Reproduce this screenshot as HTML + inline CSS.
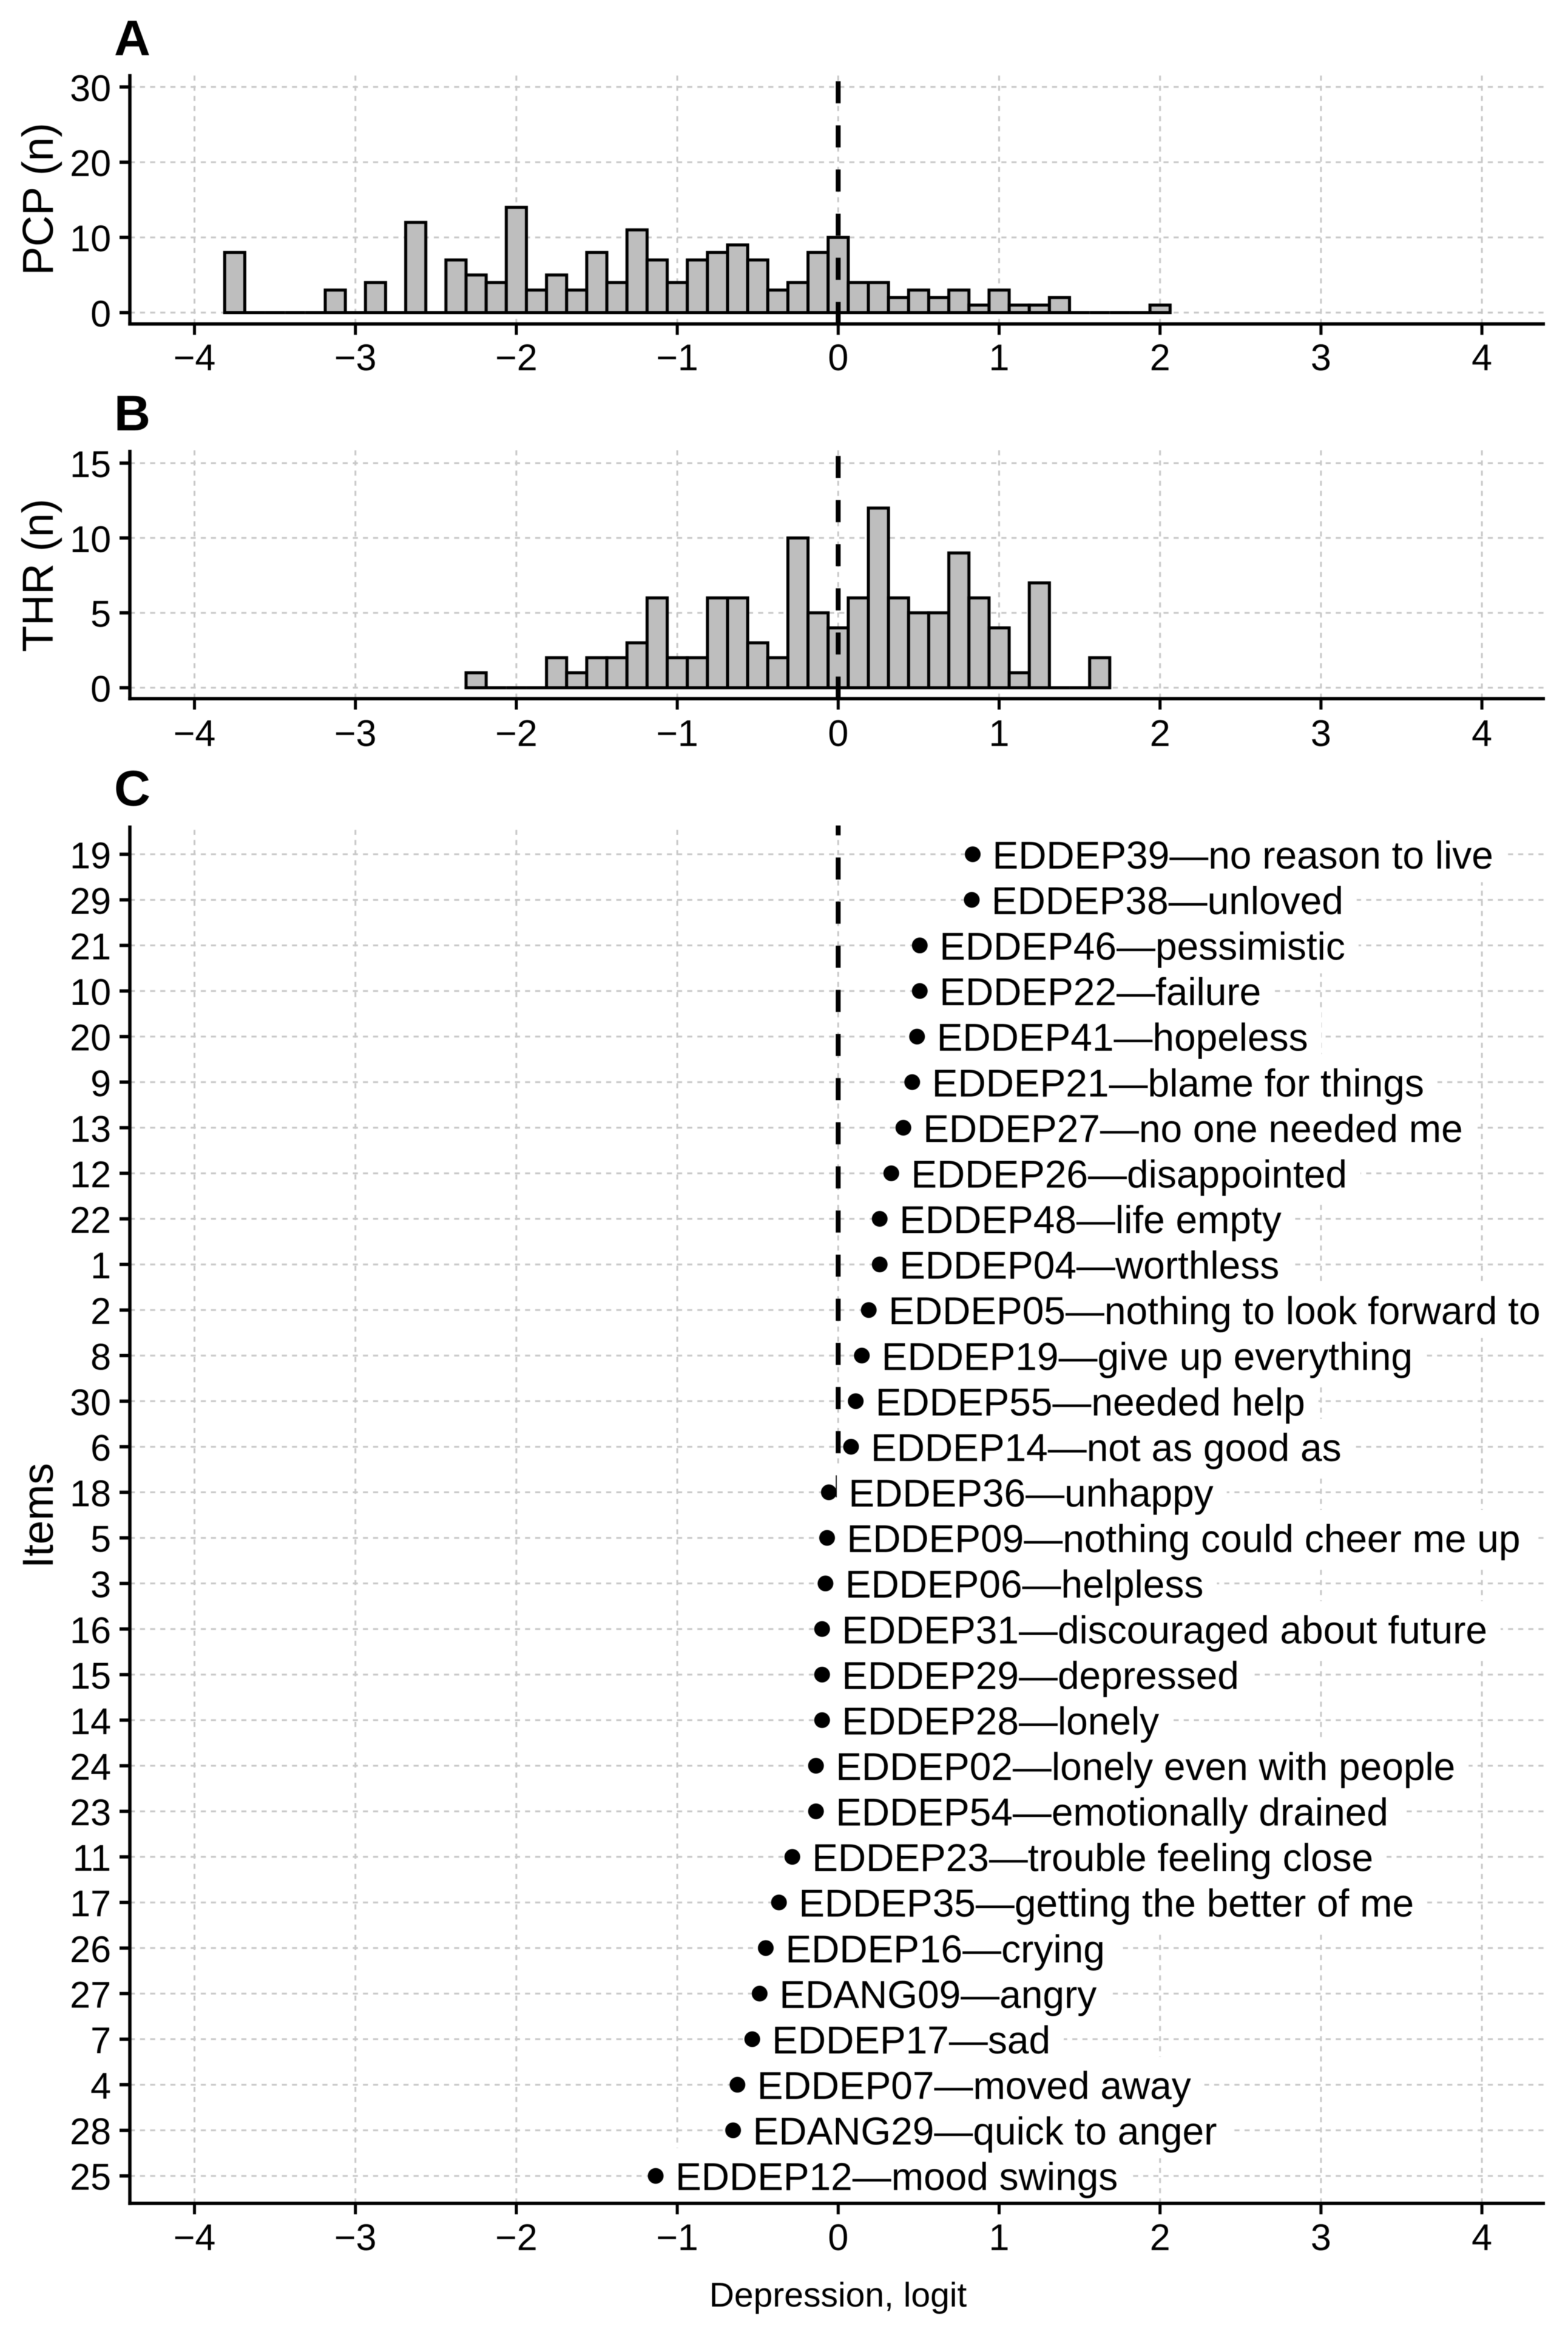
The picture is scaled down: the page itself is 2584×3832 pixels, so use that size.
<!DOCTYPE html>
<html lang="en">
<head>
<meta charset="utf-8">
<title>Depression logit distributions and item locations</title>
<style>
html,body{margin:0;padding:0;background:#fff;}
body{width:2584px;height:3832px;overflow:hidden;}
svg{display:block;filter:blur(0.5px);}
text{font-family:"Liberation Sans",Arial,sans-serif;fill:#000;}
</style>
</head>
<body>
<svg id="figure" xmlns="http://www.w3.org/2000/svg" width="2584" height="3832" viewBox="0 0 2584 3832"></svg>
<script>
// ---- Data ----
const xTicks = [-4, -3, -2, -1, 0, 1, 2, 3, 4];
const xTickLabels = ['\u22124', '\u22123', '\u22122', '\u22121', '0', '1', '2', '3', '4'];
const binWidth = 0.125;

const pcpFirstBin = -3.75;
const pcpCounts = [8,0,0,0,0,3,0,4,0,12,0,7,5,4,14,3,5,3,8,4,11,7,4,7,8,9,7,3,4,8,10,4,4,2,3,2,3,1,3,1,1,2,0,0,0,0,1];
const pcpTicks = [0, 10, 20, 30];

const thrFirstBin = -2.25;
const thrCounts = [1,0,0,0,2,1,2,2,3,6,2,2,6,6,3,2,10,5,4,6,12,6,5,5,9,6,4,1,7,0,0,2];
const thrTicks = [0, 5, 10, 15];

const itemNumbers = [19,29,21,10,20,9,13,12,22,1,2,8,30,6,18,5,3,16,15,14,24,23,11,17,26,27,7,4,28,25];
const itemLabels = [
  'EDDEP39\u2014no reason to live','EDDEP38\u2014unloved','EDDEP46\u2014pessimistic','EDDEP22\u2014failure',
  'EDDEP41\u2014hopeless','EDDEP21\u2014blame for things','EDDEP27\u2014no one needed me','EDDEP26\u2014disappointed',
  'EDDEP48\u2014life empty','EDDEP04\u2014worthless','EDDEP05\u2014nothing to look forward to','EDDEP19\u2014give up everything',
  'EDDEP55\u2014needed help','EDDEP14\u2014not as good as','EDDEP36\u2014unhappy','EDDEP09\u2014nothing could cheer me up',
  'EDDEP06\u2014helpless','EDDEP31\u2014discouraged about future','EDDEP29\u2014depressed','EDDEP28\u2014lonely',
  'EDDEP02\u2014lonely even with people','EDDEP54\u2014emotionally drained','EDDEP23\u2014trouble feeling close','EDDEP35\u2014getting the better of me',
  'EDDEP16\u2014crying','EDANG09\u2014angry','EDDEP17\u2014sad','EDDEP07\u2014moved away','EDANG29\u2014quick to anger','EDDEP12\u2014mood swings'
];
const itemLogits = [0.836,0.83,0.507,0.507,0.49,0.46,0.405,0.33,0.258,0.258,0.19,0.147,0.109,0.08,-0.058,-0.069,-0.079,-0.10,-0.10,-0.10,-0.138,-0.138,-0.285,-0.368,-0.45,-0.488,-0.534,-0.626,-0.653,-1.134];

// ---- Scales ----
const NS = 'http://www.w3.org/2000/svg';
const svg = document.getElementById('figure');
const left = 214, right = 2546;
function xScale(v){ return 1381.3 + 265.2 * v; }
function yA(n){ return 515 - 12.39 * n; }
function yB(n){ return 1133 - 24.67 * n; }
function yC(i){ return 1407.4 + 75.08 * i; }

const GRID = '#c8c8c8';
const gridDash = '8.35 8.35';

function mk(tag, parent, props){
  const e = document.createElementNS(NS, tag);
  for (const k in props) e.setAttribute(k, props[k]);
  parent.appendChild(e);
  return e;
}

function drawPanel(name, top, bottom, gridYs){
  const g = mk('g', svg, {});
  
  
  xTicks.forEach(function(t){
    const l = mk('line', g, {x1:xScale(t), x2:xScale(t), y1:bottom, y2:top, stroke:GRID, 'stroke-width':3, 'stroke-dasharray':gridDash});
    
    
  });
  gridYs.forEach(function(y){
    const l = mk('line', g, {x1:left, x2:right, y1:y, y2:y, stroke:GRID, 'stroke-width':3, 'stroke-dasharray':gridDash});
    
    
  });
  return g;
}

function drawZeroLine(g, name, top, bottom){
  const l = mk('line', g, {x1:xScale(0), x2:xScale(0), y1:bottom, y2:top, stroke:'#000', 'stroke-width':8, 'stroke-dasharray':'36.35 36.35'});
  
  
}

function drawAxes(g, name, top, bottom, tickBaseline, yVals, yLabels, yPos, yLabelOffset){
  const yAxis = mk('line', g, {x1:left, x2:left, y1:top, y2:bottom + 2.7, stroke:'#000', 'stroke-width':5.5});
  
  
  const xAxis = mk('line', g, {x1:left - 2.7, x2:right, y1:bottom, y2:bottom, stroke:'#000', 'stroke-width':5.5});
  
  
  xTicks.forEach(function(t, i){
    const m = mk('line', g, {x1:xScale(t), x2:xScale(t), y1:bottom, y2:bottom + 18, stroke:'#000', 'stroke-width':5});
    
    
    const lab = mk('text', g, {x:xScale(t), y:tickBaseline, 'text-anchor':'middle', 'font-size':61});
    
    
    lab.textContent = xTickLabels[i];
  });
  yVals.forEach(function(v, i){
    const y = yPos(v);
    const m = mk('line', g, {x1:197, x2:left, y1:y, y2:y, stroke:'#000', 'stroke-width':5.5});
    
    
    const lab = mk('text', g, {x:183, y:y + yLabelOffset, 'text-anchor':'end', 'font-size':61});
    
    
    lab.textContent = yLabels[i];
  });
}

function drawBars(g, name, counts, firstBin, yPos){
  counts.forEach(function(c, i){
    const center = firstBin + i * binWidth;
    const x0 = xScale(center - binWidth / 2), x1 = xScale(center + binWidth / 2);
    const y0 = yPos(0), y1 = yPos(c);
    const b = mk('path', g, {d:'M' + x0 + ' ' + y0 + 'L' + x0 + ' ' + y1 + 'L' + x1 + ' ' + y1 + 'L' + x1 + ' ' + y0 + 'Z', fill:'#bebebe', stroke:'#000', 'stroke-width':5});
    
    
  });
}

function addTitle(name, txt, x, y, size, rotate, bold, anchor){
  const t = mk('text', svg, {x:x, y:y, 'font-size':size, 'text-anchor':anchor});
  if (rotate) t.setAttribute('transform', 'rotate(-90 ' + x + ' ' + y + ')');
  if (bold) t.setAttribute('font-weight', 'bold');
  
  
  t.textContent = txt;
}

// ---- Panel A ----
const gA = drawPanel('pcp', 122, 533.7, pcpTicks.map(yA));
drawBars(gA, 'pcp', pcpCounts, pcpFirstBin, yA);
drawZeroLine(gA, 'pcp', 122, 533.7);
drawAxes(gA, 'pcp', 122, 533.7, 610, pcpTicks, pcpTicks, yA, 23);

// ---- Panel B ----
const gB = drawPanel('thr', 741, 1151, thrTicks.map(yB));
drawBars(gB, 'thr', thrCounts, thrFirstBin, yB);
drawZeroLine(gB, 'thr', 741, 1151);
drawAxes(gB, 'thr', 741, 1151, 1229, thrTicks, thrTicks, yB, 23);

// ---- Panel C ----
const gC = drawPanel('items', 1360, 3630, itemNumbers.map(function(_, i){ return yC(i); }));
drawZeroLine(gC, 'items', 1360, 3630);
const boxLayer = mk('g', gC, {});


const labelLayer = mk('g', gC, {});


itemLabels.forEach(function(lbl, i){
  const cx = xScale(itemLogits[i]), cy = yC(i);
  const box = mk('rect', boxLayer, {x:cx + 13, y:cy - 46, height:92, width:10, fill:'#fff'});
  
  
  const t = mk('text', labelLayer, {x:cx + 32.5, y:cy + 23.5, 'font-size':64});
  
  
  t.textContent = lbl;
  box.setAttribute('width', (19.5 + t.getComputedTextLength() + 22));
});
itemLogits.forEach(function(v, i){
  const d = mk('circle', gC, {cx:xScale(v), cy:yC(i), r:13, fill:'#000'});
  
  
});
drawAxes(gC, 'items', 1360, 3630, 3707, itemNumbers.map(function(_, i){ return i; }), itemNumbers, yC, 23);

// ---- Titles ----
addTitle('panel-a-letter', 'A', 188, 91, 83, false, true, 'start');
addTitle('panel-b-letter', 'B', 188, 709, 83, false, true, 'start');
addTitle('panel-c-letter', 'C', 188, 1327, 83, false, true, 'start');
addTitle('pcp-y-axis-title', 'PCP (n)', 87, 328, 71, true, false, 'middle');
addTitle('thr-y-axis-title', 'THR (n)', 87, 948, 71, true, false, 'middle');
addTitle('items-y-axis-title', 'Items', 87, 2497, 71, true, false, 'middle');
addTitle('x-axis-title', 'Depression, logit', 1381, 3800, 57, false, false, 'middle');
</script>
</body>
</html>
